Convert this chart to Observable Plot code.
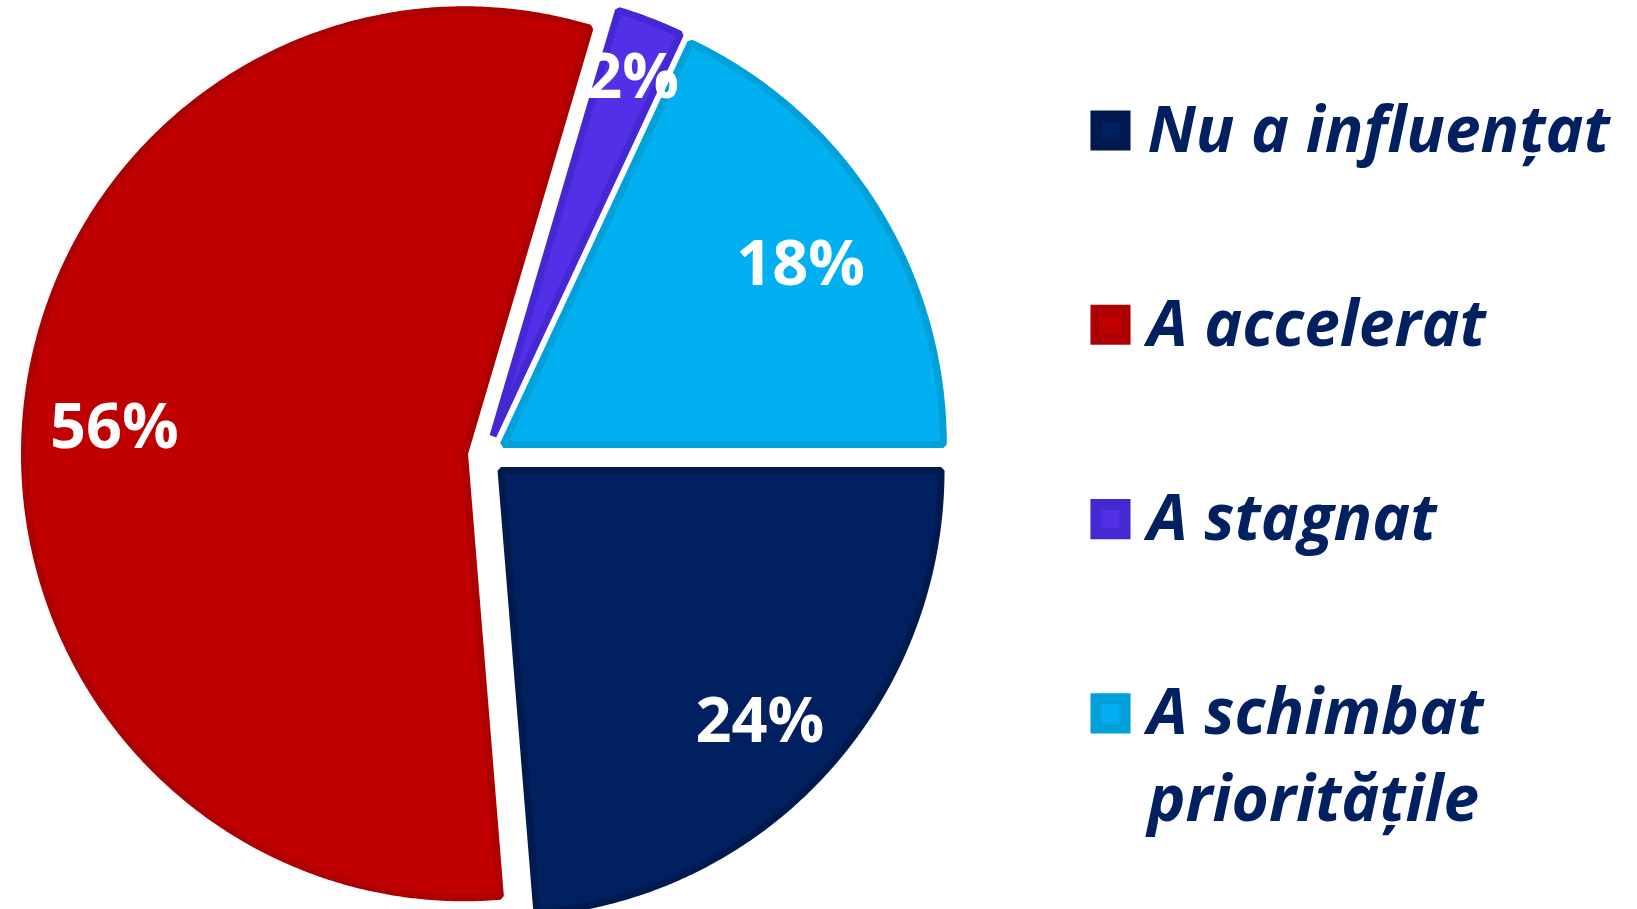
<!DOCTYPE html>
<html><head><meta charset="utf-8">
<script src="https://cdn.jsdelivr.net/npm/d3@7"></script>
<script src="https://cdn.jsdelivr.net/npm/@observablehq/plot@0.6"></script>
<style>html,body{margin:0;padding:0;background:#fff;overflow:hidden} #chart svg{display:block}</style>
</head><body><div id="chart"></div>
<script>
// ---- data ----
const categories = ["Nu a influențat", "A accelerat", "A stagnat", "A schimbat\nprioritățile"];
const values = [23.7, 55.9, 2.4, 18.0];
const labels = ["24%", "56%", "2%", "18%"];
const fills = ["#002060", "#C00000", "#5230E8", "#00B0F0"];
const borders = ["#001A50", "#AE0000", "#4628D2", "#00A0D8"];

// ---- layout ----
const W = 1637, H = 909;
const cx = 485, cy = 455.5, rx = 440, ry = 444;
const explode = 0.048;
const labelFont = "'Open Sans', 'Noto Sans', sans-serif";

const rows = categories.map((c, i) => ({key: c, value: values[i], label: labels[i], i}));
const pie = d3.pie().sort(null).value(d => d.value)
  .startAngle(Math.PI / 2).endAngle(Math.PI / 2 + 2 * Math.PI);
const arcs = pie(rows);

const polys = [];
const labelPts = [];
arcs.forEach(a => {
  const mid = (a.startAngle + a.endAngle) / 2;
  const ox = explode * Math.sin(mid), oy = explode * Math.cos(mid);
  const key = a.data.key;
  polys.push({key, x: ox, y: oy});
  const n = Math.max(4, Math.ceil((a.endAngle - a.startAngle) / (Math.PI / 360)));
  for (let k = 0; k <= n; k++) {
    const t = a.startAngle + (a.endAngle - a.startAngle) * k / n;
    polys.push({key, x: ox + Math.sin(t), y: oy + Math.cos(t)});
  }
  const kr = a.data.value < 5 ? 0.89 : 0.8;
  labelPts.push({label: a.data.label, x: ox + kr * Math.sin(mid), y: oy + kr * Math.cos(mid)});
});

// legend layout (pixel -> unit coords)
const ux = px => (px - cx) / rx;
const uy = py => (cy - py) / ry;
const legendFs = 64;
const legendLH = 1.36;
const legend = rows.map(r => ({key: r.key, i: r.i, y: uy(130 + r.i * 194.3)}));

const marks = [];
rows.forEach(r => {
  marks.push(Plot.line(polys.filter(p => p.key === r.key), {
    x: "x", y: "y", curve: "linear-closed",
    fill: fills[r.i], stroke: borders[r.i], strokeWidth: 7, strokeLinejoin: "miter"
  }));
});
marks.push(Plot.text(labelPts, {
  x: "x", y: "y", text: "label", fill: "white", fontSize: 63, fontWeight: "bold",
  fontFamily: labelFont, dy: 11
}));
rows.forEach(r => {
  marks.push(Plot.dot([legend[r.i]], {
    x: () => ux(1110), y: "y", symbol: "square", r: 16.4,
    fill: fills[r.i], stroke: borders[r.i], strokeWidth: 11
  }));
});
marks.push(Plot.text(legend, {
  x: () => ux(1147), y: "y", text: "key", textAnchor: "start", lineAnchor: "top",
  dy: 21 - 0.71 * legendLH * legendFs, lineHeight: legendLH,
  fill: "#002060", fontSize: legendFs, fontWeight: "bold", fontStyle: "italic",
  fontFamily: labelFont
}));

const chart = Plot.plot({
  width: W, height: H, margin: 0,
  x: {domain: [-1, 1], range: [cx - rx, cx + rx], axis: null},
  y: {domain: [-1, 1], range: [cy + ry, cy - ry], axis: null},
  style: {background: "#fff", overflow: "visible"},
  marks
});
document.getElementById("chart").append(chart);
</script>
</body></html>
